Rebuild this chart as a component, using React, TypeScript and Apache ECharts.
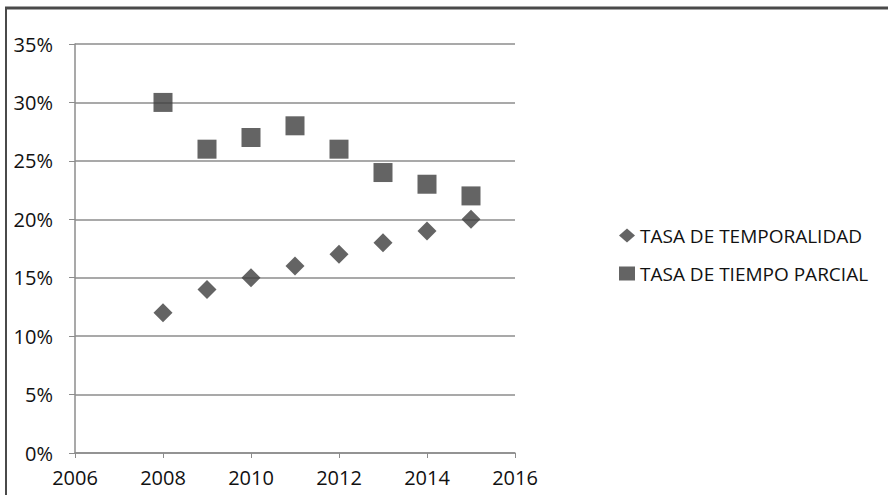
import React, { useEffect, useRef } from "react";
import * as echarts from "echarts";

const years = [2008, 2009, 2010, 2011, 2012, 2013, 2014, 2015];
const temporalidad = [12, 14, 15, 16, 17, 18, 19, 20];
const tiempoParcial = [30, 26, 27, 28, 26, 24, 23, 22];
const seriesNames = ["TASA DE TEMPORALIDAD", "TASA DE TIEMPO PARCIAL"];

export default function App() {
  const ref = useRef<HTMLDivElement>(null);
  useEffect(() => {
    if (!ref.current) return;
    const chart = echarts.init(ref.current, null, { renderer: "svg" });
    const font = "'Open Sans', sans-serif";
    chart.setOption({
      animation: false,
      backgroundColor: "#ffffff",
      textStyle: { fontFamily: font },
      grid: { left: 75, top: 44, right: 373, bottom: 42, containLabel: false },
      xAxis: {
        type: "value",
        min: 2006,
        max: 2016,
        interval: 2,
        axisLine: { show: true, lineStyle: { color: "#8c8c8c", width: 1.5 } },
        axisTick: { show: true, length: 5, lineStyle: { color: "#8c8c8c" } },
        splitLine: { show: false },
        axisLabel: {
          color: "#111",
          fontSize: 20,
          fontFamily: font,
          margin: 14,
          formatter: (v: number) => String(v),
        },
      },
      yAxis: {
        type: "value",
        min: 0,
        max: 35,
        interval: 5,
        axisLine: { show: true, lineStyle: { color: "#8c8c8c", width: 1.5 } },
        axisTick: { show: true, length: 6, lineStyle: { color: "#8c8c8c" } },
        splitLine: { show: true, lineStyle: { color: "#8c8c8c", width: 1.5 } },
        axisLabel: { color: "#111", fontSize: 20, fontFamily: font, margin: 22, formatter: "{value}%" },
      },
      legend: {
        orient: "vertical",
        left: 614,
        top: 221,
        itemGap: 19,
        itemWidth: 16,
        itemHeight: 14,
        textStyle: { color: "#111", fontSize: 19, fontFamily: font },
        data: [
          { name: seriesNames[0], icon: "diamond" },
          { name: seriesNames[1], icon: "rect" },
        ],
      },
      graphic: [
        {
          type: "line",
          shape: { x1: 5, y1: 8, x2: 888, y2: 8 },
          style: { stroke: "#4a4a4a", lineWidth: 3 },
        },
        {
          type: "line",
          shape: { x1: 6, y1: 7, x2: 6, y2: 495 },
          style: { stroke: "#4a4a4a", lineWidth: 2 },
        },
      ],
      series: [
        {
          name: seriesNames[0],
          type: "scatter",
          symbol: "diamond",
          symbolSize: 19,
          itemStyle: { color: "#3d3d3d" },
          data: years.map((y, i) => [y, temporalidad[i]]),
        },
        {
          name: seriesNames[1],
          type: "scatter",
          symbol: "rect",
          symbolSize: 19,
          itemStyle: { color: "#3d3d3d" },
          data: years.map((y, i) => [y, tiempoParcial[i]]),
        },
      ],
    });
    return () => chart.dispose();
  }, []);
  return (
    <div
      ref={ref}
      style={{ position: "fixed", left: 0, top: 0, width: 888, height: 495 }}
    />
  );
}
